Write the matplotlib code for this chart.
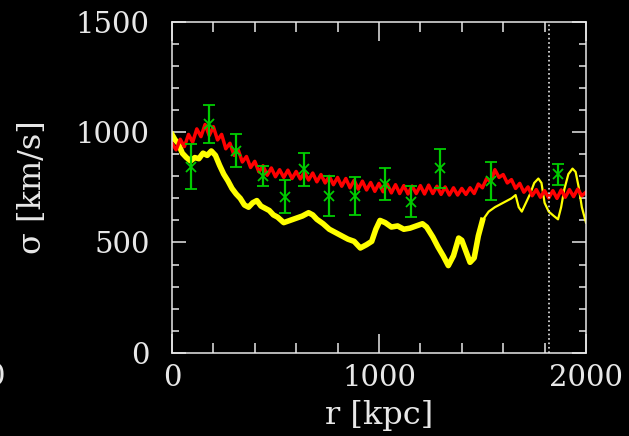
import numpy as np
import matplotlib
matplotlib.use('Agg')
import matplotlib.pyplot as plt
from matplotlib.ticker import MultipleLocator

# ── Data ──────────────────────────────────────────────────────────────

# red profile (noisy), sampled every 20 kpc
RED_R = list(range(0, 2001, 20))
RED_S = [950, 920, 968, 935, 990, 955, 1015, 980, 1035, 985,
         1025, 965, 990, 925, 950, 895, 920, 865, 890, 840,
         868, 820, 848, 805, 838, 798, 830, 795, 828, 790,
         822, 788, 818, 783, 815, 775, 808, 770, 800, 762,
         795, 755, 790, 748, 782, 742, 778, 738, 772, 732,
         768, 730, 765, 725, 762, 722, 758, 720, 756, 722,
         758, 720, 760, 722, 755, 718, 752, 715, 748, 715,
         745, 718, 748, 722, 765, 748, 790, 775, 830, 795,
         808, 770, 785, 745, 768, 728, 752, 712, 740, 705,
         735, 702, 735, 700, 738, 705, 740, 708, 742, 712,
         728]

# yellow profile
YEL_R = [0, 15, 30, 50, 70, 90, 110, 130, 150, 170, 190, 210, 230, 250, 270,
         290, 310, 330, 350, 370, 390, 410, 430, 450, 470, 490, 510, 540, 570,
         600, 630, 660, 680, 700, 730, 760, 790, 820, 850, 880, 910, 940, 965,
         985, 1005, 1030, 1060, 1090, 1120, 1150, 1180, 1210, 1230, 1260, 1285,
         1310, 1335, 1360, 1385, 1400, 1420, 1440, 1460, 1480, 1500, 1530,
         1560, 1590, 1620, 1640, 1660, 1675, 1690, 1710, 1730, 1750, 1770,
         1785, 1800, 1820, 1845, 1865, 1880, 1895, 1915, 1935, 1950, 1965,
         1980, 2000]
YEL_S = [990, 965, 950, 905, 885, 870, 885, 880, 905, 895, 915, 895, 850, 810,
         780, 745, 720, 700, 670, 660, 680, 690, 665, 655, 645, 625, 615, 590,
         600, 610, 620, 635, 625, 605, 585, 560, 545, 530, 515, 505, 475, 490,
         505, 560, 600, 590, 570, 575, 560, 565, 575, 585, 570, 525, 480, 440,
         395, 440, 520, 510, 460, 410, 430, 530, 600, 640, 660, 675, 690, 700,
         715, 660, 640, 680, 720, 770, 790, 770, 680, 640, 620, 605, 660, 740,
         810, 835, 820, 750, 660, 590]

# binned points with error bars
PTS_R = [90, 179, 308, 438, 544, 639, 758, 886, 1029, 1155, 1296, 1541, 1866]
PTS_S = [843, 1037, 916, 801, 708, 832, 711, 711, 764, 685, 836, 779, 809]
PTS_E = [102, 88, 75, 46, 76, 74, 90, 85, 72, 70, 90, 87, 49]

R_VLINE = 1821

# ── Plot ──────────────────────────────────────────────────────────────

FG = '#e8e8e8'
plt.rcParams['font.family'] = 'DejaVu Serif'

fig = plt.figure(figsize=(6.29, 4.36), dpi=100, facecolor='black')
ax = fig.add_axes([0.2734, 0.191, 0.6582, 0.7586], facecolor='black')

split = YEL_R.index(1500)
ax.plot(YEL_R[:split + 1], YEL_S[:split + 1], color='#ffff00', lw=4)
ax.plot(YEL_R[split:], YEL_S[split:], color='#ffff00', lw=1.6)
ax.plot(RED_R, RED_S, color='#ff0000', lw=2.5)
ax.errorbar(PTS_R, PTS_S, yerr=PTS_E, fmt='x', color='#00cc00', ms=7,
            mew=1.3, elinewidth=1.6, capsize=4.5, capthick=1.6)
ax.axvline(R_VLINE, color=FG, ls=':', lw=1.2)

ax.set_xlim(0, 2000)
ax.set_ylim(0, 1500)
ax.xaxis.set_major_locator(MultipleLocator(1000))
ax.xaxis.set_minor_locator(MultipleLocator(200))
ax.yaxis.set_major_locator(MultipleLocator(500))
ax.yaxis.set_minor_locator(MultipleLocator(100))

ax.tick_params(axis='both', which='both', direction='in', colors=FG,
               top=True, right=True, width=1.1, labelsize=21)
ax.tick_params(axis='x', which='major', length=13.5, pad=8)
ax.tick_params(axis='x', which='minor', length=7)
ax.tick_params(axis='y', which='major', length=10, pad=16)
ax.tick_params(axis='y', which='minor', length=5)
for s in ax.spines.values():
    s.set_color(FG)
    s.set_linewidth(1.1)

ax.set_xlabel('r [kpc]', color=FG, fontsize=23, labelpad=6)
ax.set_ylabel('σ [km/s]', color=FG, fontsize=23, labelpad=20)

# leftover label from the neighbouring panel
fig.text(5 / 629, 1 - 377 / 436, '0', color=FG, fontsize=21,
         ha='right', va='center')

fig.savefig('out.png', dpi=100, facecolor='black')
